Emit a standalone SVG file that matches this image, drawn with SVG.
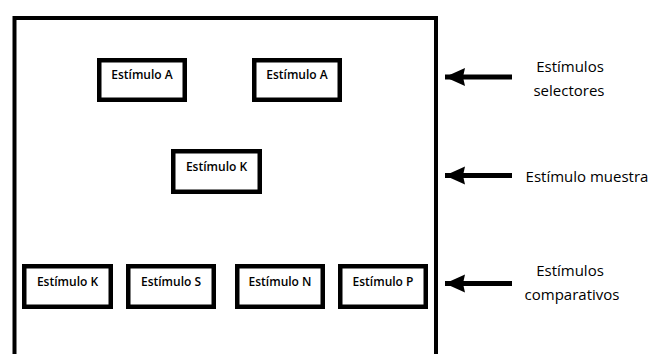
<svg xmlns="http://www.w3.org/2000/svg" width="653" height="354" viewBox="0 0 653 354">
<style>
.box{fill:#fff;stroke:#000;stroke-width:4.5}
.bt{font-family:"Open Sans","Liberation Sans",sans-serif;font-size:12px;font-weight:600;text-anchor:middle;fill:#000}
.lt{font-family:"Open Sans","Liberation Sans",sans-serif;font-size:15px;text-anchor:middle;fill:#000}
.arr{stroke:#000;stroke-width:5;fill:none}
</style>
<defs>
<marker id="ah" markerUnits="userSpaceOnUse" markerWidth="22" markerHeight="20" refX="20" refY="10" orient="auto">
<path d="M0,1 L20,10 L0,19 L2,10 Z" fill="#000"/>
</marker>
</defs>
<rect width="653" height="354" fill="#fff"/>
<g id="frame"><path d="M14.5,360 V18 H436 V360" fill="none" stroke="#000" stroke-width="4"/></g>
<g id="selA1"><rect class="box" x="99.25" y="60.25" width="85.5" height="39.5"/><text class="bt" x="142" y="79">Estímulo A</text></g>
<g id="selA2"><rect class="box" x="254.25" y="60.25" width="85.5" height="39.5"/><text class="bt" x="297" y="79">Estímulo A</text></g>
<g id="muestraK"><rect class="box" x="173.25" y="151.25" width="86.5" height="40.5"/><text class="bt" x="216.5" y="171">Estímulo K</text></g>
<g id="compK"><rect class="box" x="24.25" y="266.25" width="86.5" height="40.5"/><text class="bt" x="67.5" y="286">Estímulo K</text></g>
<g id="compS"><rect class="box" x="128.25" y="266.25" width="85.5" height="40.5"/><text class="bt" x="171" y="286">Estímulo S</text></g>
<g id="compN"><rect class="box" x="237.25" y="266.25" width="85.5" height="40.5"/><text class="bt" x="280" y="286">Estímulo N</text></g>
<g id="compP"><rect class="box" x="340.25" y="266.25" width="85.5" height="40.5"/><text class="bt" x="383" y="286">Estímulo P</text></g>
<g id="connectors">
<line class="arr" x1="512" y1="77" x2="445" y2="77" marker-end="url(#ah)"/>
<line class="arr" x1="512" y1="175.5" x2="445" y2="175.5" marker-end="url(#ah)"/>
<line class="arr" x1="512" y1="283.5" x2="445" y2="283.5" marker-end="url(#ah)"/>
</g>
<g id="labelSel"><text class="lt" x="570" y="72">Estímulos</text><text class="lt" x="569" y="95.5">selectores</text></g>
<g id="labelMuestra"><text class="lt" x="587" y="182">Estímulo muestra</text></g>
<g id="labelComp"><text class="lt" x="570" y="275.5">Estímulos</text><text class="lt" x="572" y="300">comparativos</text></g>
</svg>
